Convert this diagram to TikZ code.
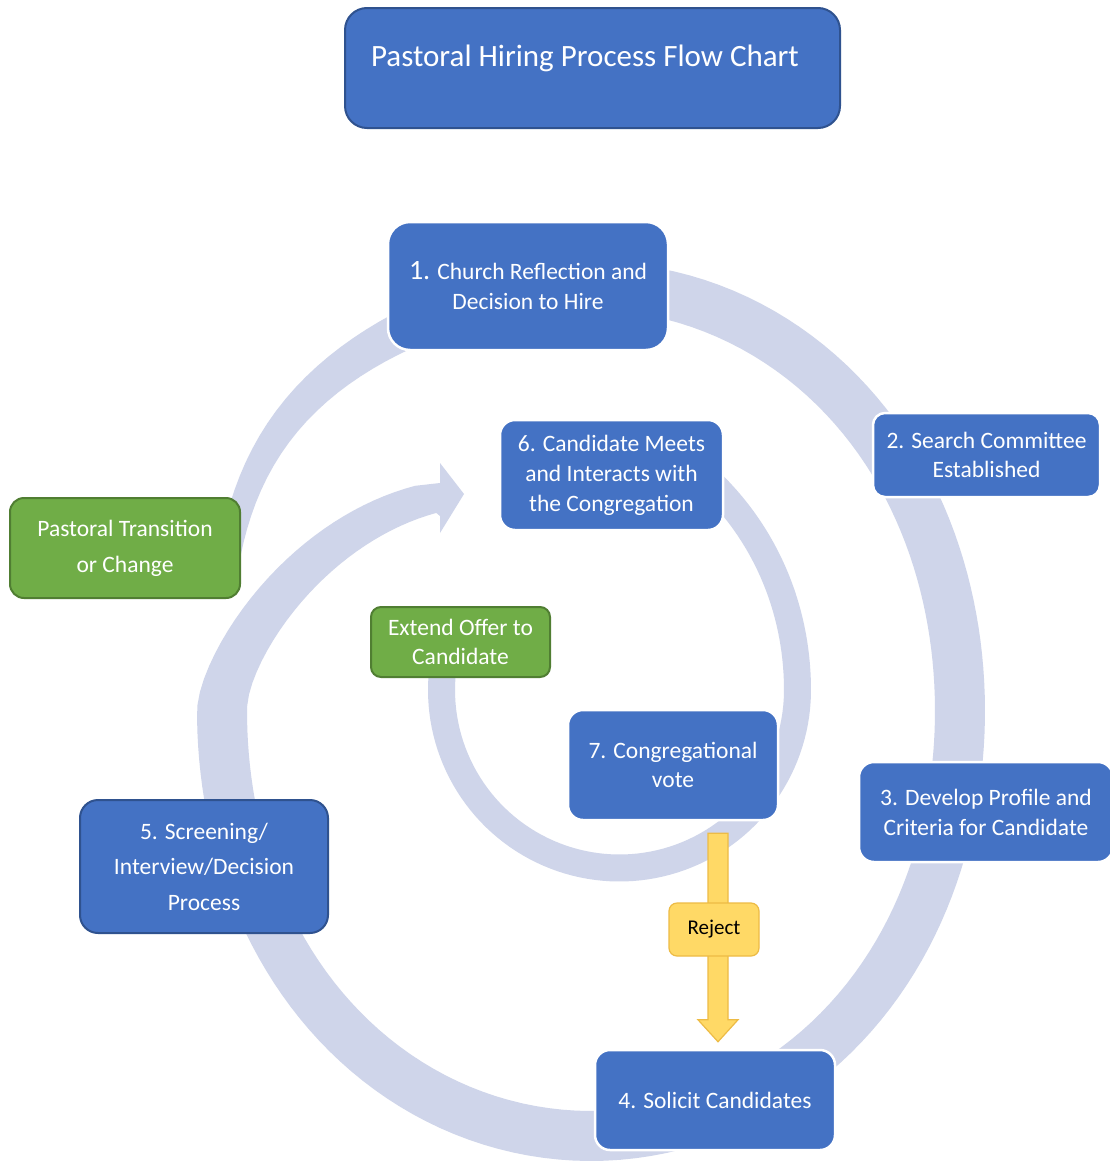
\documentclass[tikz,border=0pt]{standalone}
\usepackage{fontspec}
\setmainfont{Carlito}
\usetikzlibrary{calc}
\definecolor{boxblue}{HTML}{4472C4}
\definecolor{boxblueline}{HTML}{2F528F}
\definecolor{boxgreen}{HTML}{70AD47}
\definecolor{boxgreenline}{HTML}{507E32}
\definecolor{bandcol}{HTML}{CFD5EA}
\definecolor{yfill}{HTML}{FFD966}
\definecolor{yline}{HTML}{EDBB45}
\begin{document}
\begin{tikzpicture}[x=1pt,y=-1pt,
  declare function={
    Rs(\t)=397-28*cos(2*\t)+25*exp(-min(((\t-220)/25)^2,20))-3*max(\t-540,0)^2/(max(\t-540,0)+8);
    Wf(\t)=22+28*(1-exp(-min(((\t-195)/50)^2,20)))-0.3*max(\t-540,0);
    Ri(\t)=178+30*(min(\t,0)/52)^2;
  },
  band/.style={fill=bandcol,draw=none},
  bluebox/.style={rectangle,fill=boxblue,draw=white,line width=2.5pt,text=white,align=center,
    font=\fontsize{23.5}{30}\selectfont,inner sep=0pt},
  blueboxdark/.style={bluebox,draw=boxblueline,line width=2pt},
  greenbox/.style={rectangle,fill=boxgreen,draw=boxgreenline,line width=2pt,text=white,align=center,
    font=\fontsize{23.5}{30}\selectfont,inner sep=0pt},
  yarrow/.style={fill=yfill,draw=yline,line width=1.2pt,line join=miter},
  rejbox/.style={rectangle,fill=yfill,draw=yline,line width=1.2pt,text=black,
    font=\fontsize{21}{25}\selectfont,inner sep=0pt,rounded corners=8pt}
]
\useasboundingbox (0,0) rectangle (1110,1162);
\fill[white] (0,0) rectangle (1110,1162);

% outer spiral arrow, ending in the head that points at step 6
\fill[band]
  plot[domain=200:592,samples=200,variable=\t] ({591+(Rs(\t)+0.5*Wf(\t))*cos(\t)},{711+(Rs(\t)+0.5*Wf(\t))*sin(\t)})
  -- (440,483) -- (440,463) -- (464,494) -- (440,533) -- (440,516)
  -- plot[domain=592:200,samples=200,variable=\t] ({591+(Rs(\t)-0.5*Wf(\t))*cos(\t)},{711+(Rs(\t)-0.5*Wf(\t))*sin(\t)})
  -- cycle;

% inner ring
\draw[draw=bandcol,line width=27pt]
  plot[domain=-70:203,samples=120,variable=\t] ({619.5+Ri(\t)*cos(\t)},{690+Ri(\t)*sin(\t)});

% title
\node[blueboxdark,minimum width=495pt,minimum height=120pt,rounded corners=22pt] (title) at (592.5,68) {};
\node[text=white,font=\fontsize{31}{36}\selectfont,inner sep=0pt] (titletext) at (585,58) {Pastoral Hiring Process Flow Chart};

% steps
\node[bluebox,minimum width=280pt,minimum height=128pt,rounded corners=22pt] (b1) at (528,286)
  {{\fontsize{28}{30}\selectfont 1.} Church Reflection and\\Decision to Hire};
\node[bluebox,minimum width=227pt,minimum height=84pt,rounded corners=12pt,font=\fontsize{23.5}{29}\selectfont] (b2) at (986.5,455)
  {2. Search Committee\\Established};
\node[bluebox,minimum width=254pt,minimum height=100pt,rounded corners=15pt] (b3) at (986,812)
  {3. Develop Profile and\\Criteria for Candidate};
\node[bluebox,minimum width=240pt,minimum height=100pt,rounded corners=15pt] (b4) at (715,1100)
  {4. Solicit Candidates};
\node[blueboxdark,minimum width=248pt,minimum height=133pt,rounded corners=18pt,font=\fontsize{23.5}{35.5}\selectfont] (b5) at (204,866.5)
  {5. Screening/\\Interview/Decision\\Process};
\node[bluebox,minimum width=223pt,minimum height=110pt,rounded corners=15pt] (b6) at (611.5,475)
  {6. Candidate Meets\\and Interacts with\\the Congregation};
\node[bluebox,minimum width=210pt,minimum height=110pt,rounded corners=15pt,font=\fontsize{23.5}{29}\selectfont] (b7) at (673,765)
  {7. Congregational\\vote};

% green boxes
\node[greenbox,minimum width=230pt,minimum height=100pt,rounded corners=14pt,font=\fontsize{23.5}{36}\selectfont] (pt) at (125,548)
  {Pastoral Transition\\or Change};
\node[greenbox,minimum width=179pt,minimum height=70pt,rounded corners=10pt,font=\fontsize{23.5}{29}\selectfont] (eo) at (460.5,642)
  {Extend Offer to\\Candidate};

% reject arrow from 7 to 4
\draw[yarrow] let \p1=($(b7.south -| b4.north)+(3,12)$), \p2=($(b4.north)+(3,-7)$) in
  (\x1-10pt,\y1) -- (\x1+10pt,\y1) -- (\x1+10pt,\y2+22pt) -- (\x1+20pt,\y2+22pt) -- (\x1,\y2)
  -- (\x1-20pt,\y2+22pt) -- (\x1-10pt,\y2+22pt) -- cycle;
\node[rejbox,minimum width=90pt,minimum height=53pt] (rej) at (714,929.5) {Reject};
\end{tikzpicture}
\end{document}
